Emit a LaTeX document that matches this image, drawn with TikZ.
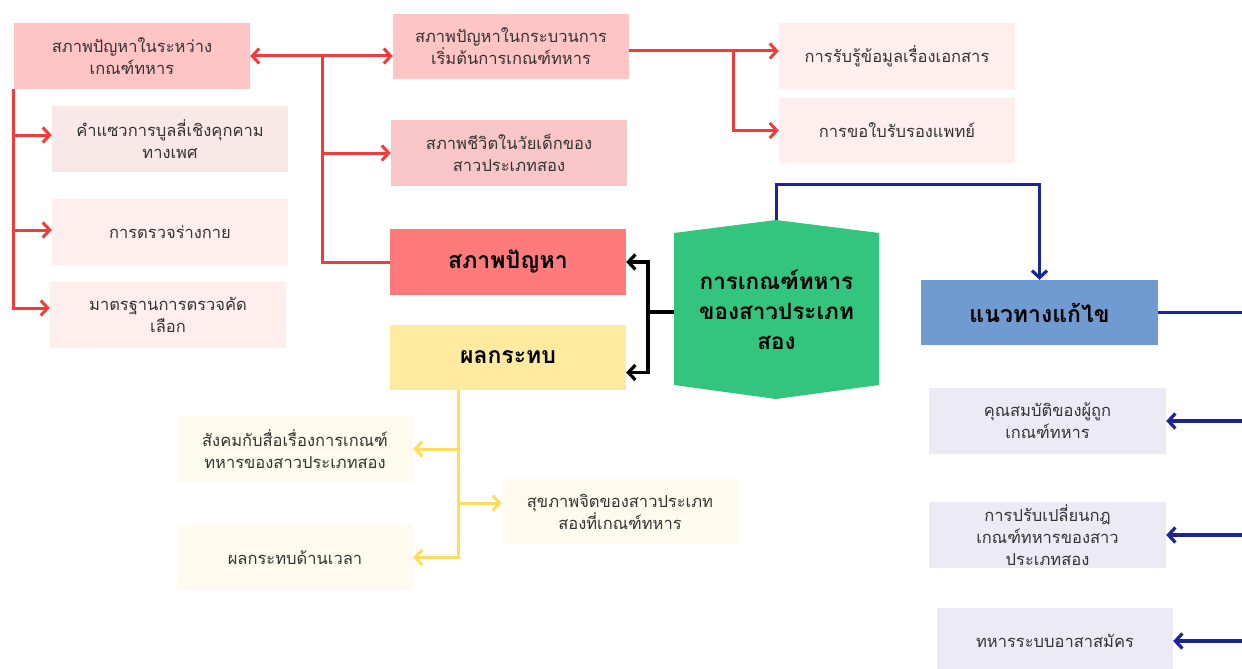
\documentclass[tikz,border=0pt]{standalone}
\usepackage{fontspec}
\usepackage{xcolor}
\usetikzlibrary{arrows.meta,calc}
\newfontfamily\thaifont[Script=Thai]{Loma}
\definecolor{pinkmid}{HTML}{FFC4C4}
\definecolor{pinkrose}{HTML}{F8C6C6}
\definecolor{pinkpale}{HTML}{F8E8E8}
\definecolor{pinklite}{HTML}{FFEEEE}
\definecolor{probred}{HTML}{FF7A7A}
\definecolor{impyellow}{HTML}{FFEBA0}
\definecolor{impcream}{HTML}{FEFBEE}
\definecolor{centgreen}{HTML}{33C47D}
\definecolor{solblue}{HTML}{6F9BD0}
\definecolor{sollav}{HTML}{ECEAF5}
\definecolor{linered}{HTML}{F43A3A}
\definecolor{lineyellow}{HTML}{FFDC5C}
\definecolor{linenavy}{HTML}{1B2596}
\definecolor{textgray}{HTML}{333333}

\begin{document}
\begin{tikzpicture}[x=1pt, y=-1pt,
  box/.style={minimum width=236pt, minimum height=66pt, inner sep=2pt, align=center,
    text=textgray, font=\thaifont\fontsize{16.5}{22}\selectfont},
  titlebox/.style={box, text=black, font=\thaifont\bfseries\fontsize{23}{28}\selectfont},
  tip/.style={-{Straight Barb[length=7pt,width=15pt]}},
  redline/.style={draw=linered, line width=3pt},
  yellowline/.style={draw=lineyellow, line width=3pt},
  navyline/.style={draw=linenavy, line width=3.2pt},
  blackline/.style={draw=black, line width=3.2pt}]
  \useasboundingbox (0,0) rectangle (1242,669);
  % Problems branch
  \node[box, fill=pinkmid] (prob1) at (132,56) {สภาพปัญหาในระหว่าง\\เกณฑ์ทหาร};
  \node[box, fill=pinkpale] (prob1a) at (170,139) {คำแซวการบูลลี่เชิงคุกคาม\\ทางเพศ};
  \node[box, fill=pinklite] (prob1b) at (170,232) {การตรวจร่างกาย};
  \node[box, fill=pinklite] (prob1c) at (168,315) {มาตรฐานการตรวจคัด\\เลือก};
  \node[box, fill=pinkmid, minimum height=65pt] (prob2) at (511,46.5) {สภาพปัญหาในกระบวนการ\\เริ่มต้นการเกณฑ์ทหาร};
  \node[box, fill=pinkrose] (prob3) at (509,153) {สภาพชีวิตในวัยเด็กของ\\สาวประเภทสอง};
  \node[box, fill=pinklite] (prob2a) at (897,56) {การรับรู้ข้อมูลเรื่องเอกสาร};
  \node[box, fill=pinklite, minimum height=65pt] (prob2b) at (897,130.5) {การขอใบรับรองแพทย์};
  \node[titlebox, fill=probred] (prob) at (508,262) {สภาพปัญหา};
  % Impact branch
  \node[titlebox, fill=impyellow, minimum height=65pt] (imp) at (508,357.5) {ผลกระทบ};
  \node[box, fill=impcream] (imp1) at (295,449) {สังคมกับสื่อเรื่องการเกณฑ์\\ทหารของสาวประเภทสอง};
  \node[box, fill=impcream, minimum height=65pt] (imp2) at (295,557.5) {ผลกระทบด้านเวลา};
  \node[box, fill=impcream, minimum height=65pt] (imp3) at (620,511.5) {สุขภาพจิตของสาวประเภท\\สองที่เกณฑ์ทหาร};
  % Centre
  \fill[centgreen] (776,220) -- (879,233) -- (879,385) -- (776,399) -- (674,385) -- (674,233) -- cycle;
  \node[align=center, minimum width=205pt, minimum height=179pt, inner sep=0pt,
    font=\thaifont\bfseries\fontsize{22.5}{30}\selectfont] (cent) at (776.5,309.5)
    {การเกณฑ์ทหาร\\ของสาวประเภท\\สอง};
  % Solutions branch
  \node[titlebox, fill=solblue, minimum width=237pt, minimum height=65pt] (sol) at (1039.5,312.5) {แนวทางแก้ไข};
  \node[box, fill=sollav, minimum width=237pt] (sol1) at (1047.5,421) {คุณสมบัติของผู้ถูก\\เกณฑ์ทหาร};
  \node[box, fill=sollav, minimum width=237pt] (sol2) at (1047.5,535) {การปรับเปลี่ยนกฎ\\เกณฑ์ทหารของสาว\\ประเภทสอง};
  \node[box, fill=sollav] (sol3) at (1055,641) {ทหารระบบอาสาสมัคร};
  % Red connectors
  \coordinate (rbus) at (322,56);
  \coordinate (rsplit) at (733,51);
  \draw[redline, {Straight Barb[length=7pt,width=15pt]}-{Straight Barb[length=7pt,width=15pt]}] (prob1.east) -- (prob1.east -| prob2.west);
  \draw[redline, tip] (rbus) |- (prob3.west);
  \draw[redline] (rbus) |- (prob.west);
  \draw[redline, tip] (prob1.south west) |- ([yshift=4pt]prob1a.west);
  \draw[redline, tip] (prob1.south west) |- ([yshift=2pt]prob1b.west);
  \draw[redline, tip] (prob1.south west) |- ([yshift=7pt]prob1c.west);
  \draw[redline, tip] (rsplit -| prob2.east) -- (rsplit -| prob2a.west);
  \draw[redline, tip] (rsplit) |- (prob2b.west);
  % Black connectors
  \coordinate (ksplit) at (648,312);
  \draw[blackline] (cent.west |- ksplit) -- (ksplit);
  \draw[blackline, tip] (ksplit) |- (prob.east);
  \draw[blackline, tip] (ksplit) |- ([yshift=-15pt]imp.east);
  % Navy connectors
  \coordinate (nedge) at (1242,312);
  \draw[navyline, tip] (cent.north) -- ++(0,-35) -| (sol.north);
  \draw[navyline] (sol.east) -- (sol.east -| nedge);
  \draw[navyline, tip] (nedge |- sol1.east) -- (sol1.east);
  \draw[navyline, tip] (nedge |- sol2.east) -- (sol2.east);
  \draw[navyline, tip] (nedge |- sol3.east) -- (sol3.east);
  % Yellow connectors
  \coordinate (ytop) at (458,390);
  \draw[yellowline, tip] (ytop) |- (imp2.east);
  \draw[yellowline, tip] (ytop |- imp1.east) -- (imp1.east);
  \draw[yellowline, tip] (ytop |- 0,503) -- (imp3.west |- 0,503);
\end{tikzpicture}
\end{document}
